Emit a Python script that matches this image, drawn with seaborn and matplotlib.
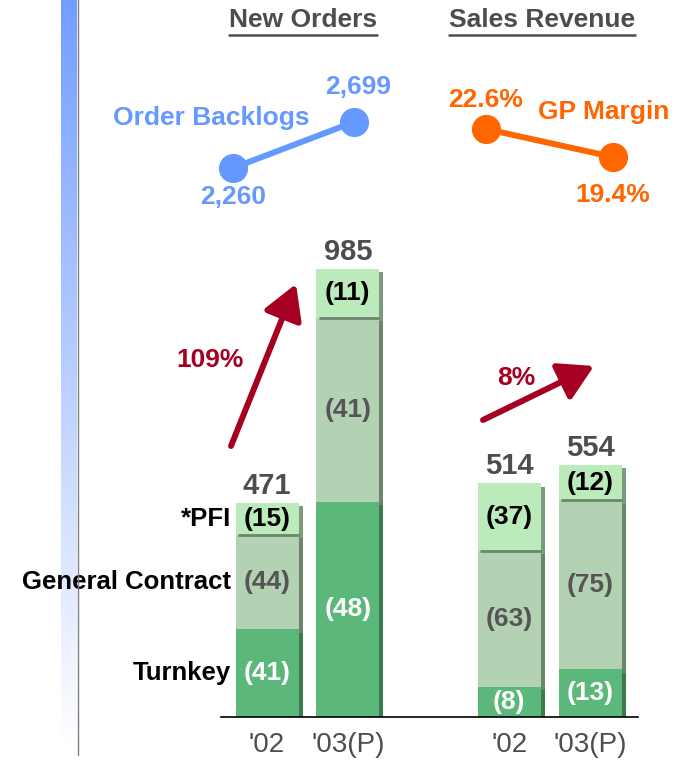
import numpy as np
import pandas as pd
import matplotlib
matplotlib.use("Agg")
import matplotlib.pyplot as plt
import matplotlib.patheffects as pe
from matplotlib.lines import Line2D
import seaborn as sns

# ---- data (100M won) ----
slots = ["NO'02", "NO'03", "SR'02", "SR'03"]
order = ["NO'02", "NO'03", "gap", "SR'02", "SR'03"]
tick_labels = ["'02", "'03(P)", "", "'02", "'03(P)"]
turnkey = [193, 473, 67, 105]
general = [207, 404, 298, 371]
pfi = [71, 108, 149, 78]
turnkey_pct = [41, 48, 8, 13]
general_pct = [44, 41, 63, 75]
pfi_pct = [15, 11, 37, 12]
row_names = ["Turnkey", "General Contract", "*PFI"]

backlog = [2260, 2699]
gp_margin = [22.6, 19.4]
growth = ["109%", "8%"]

W, H = 676, 761
BLUE = "#6699ff"
ORANGE = "#ff6600"
RED = "#a50021"
GREY = "#4d4d4d"
C_TK, C_GC, C_PFI = "#5cb87a", "#b3d1b3", "#bbeabb"

sns.set_style("white")
plt.rcParams["font.family"] = ["Liberation Sans", "DejaVu Sans"]


def box(x0, y0, x1, y1):
    # pixel box (top-left origin) -> figure fraction rect
    return [x0 / W, 1 - y1 / H, (x1 - x0) / W, (y1 - y0) / H]


df = pd.DataFrame({"slot": slots, "turnkey": turnkey, "general": general, "pfi": pfi})
df["lower"] = df.turnkey + df.general
df["total"] = df.lower + df.pfi

fig = plt.figure(figsize=(W / 100, H / 100), dpi=100)

# left gradient strip
ax_g = fig.add_axes(box(61, 0, 77, 745))
grad = np.linspace(0, 1, 256)[:, None]
top = np.array([0.45, 0.62, 1.0])
cols = top[None, None, :] * (1 - grad[:, :, None]) + np.ones(3)[None, None, :] * grad[:, :, None]
ax_g.imshow(cols, aspect="auto")
ax_g.axis("off")
fig.add_artist(Line2D([77.5 / W] * 2, [1, 1 - 755 / H], color="#7f7f7f", lw=1))

# stacked bars
ax = fig.add_axes(box(221, 200, 638, 717))
ax.patch.set_alpha(0)
layers = [("total", C_PFI, "#7d9a80"), ("lower", C_GC, "#6b866b"), ("turnkey", C_TK, "#3d7a50")]
for col, c, sh in layers:
    n = len(ax.patches)
    sns.barplot(data=df, x="slot", y=col, order=order, color=c, saturation=1,
                width=0.78, errorbar=None, linewidth=0, ax=ax)
    for p in ax.patches[n:]:
        p.set_linewidth(0)
        p.set_path_effects([pe.SimplePatchShadow(offset=(3, -2.5), shadow_rgbFace=sh, alpha=1),
                            pe.Normal()])

w = 0.78
xpos = np.array([order.index(s) for s in slots])
ax.hlines(df.lower, xpos - w / 2 + 0.03, xpos + w / 2, color="#6b866b", lw=2)

ax.set_xlim(-0.57, 4.594)
ax.set_ylim(0, 517 / 0.455)
ax.set_xticks(range(len(order)))
ax.set_xticklabels(tick_labels, fontsize=20, color=GREY)
ax.tick_params(axis="x", length=0, pad=11)
ax.set_yticks([])
ax.set_xlabel("")
ax.set_ylabel("")
for s in ["left", "top", "right"]:
    ax.spines[s].set_visible(False)
ax.spines["bottom"].set_color("black")
ax.spines["bottom"].set_linewidth(1.2)

for i, r in df.iterrows():
    x = xpos[i]
    ax.text(x, r.turnkey / 2, f"({turnkey_pct[i]})", color="white", fontsize=19,
            fontweight="bold", ha="center", va="center")
    ax.text(x, r.turnkey + r.general / 2, f"({general_pct[i]})", color="#555555",
            fontsize=19, fontweight="bold", ha="center", va="center")
    ax.text(x, r.lower + r.pfi / 2, f"({pfi_pct[i]})", color="black", fontsize=19,
            fontweight="bold", ha="center", va="center")
    ax.annotate(f"{r.total}", (x, r.total), xytext=(0, 2), textcoords="offset points",
                ha="center", va="bottom", color=GREY, fontsize=21, fontweight="bold")

r0 = df.iloc[0]
mids = [r0.turnkey / 2, r0.turnkey + r0.general / 2, r0.lower + r0.pfi / 2]
for name, y in zip(row_names, mids):
    ax.annotate(name, (xpos[0] - w / 2, y), xytext=(-3, 0), textcoords="offset points",
                ha="right", va="center", fontsize=18.5, fontweight="bold", color="black",
                annotation_clip=False)

# growth arrows
arrows = [((231, 446), (296, 284), (210, 360)), ((483, 420), (594, 366), (516, 378))]
for (t, h, lab), g in zip(arrows, growth):
    ax.annotate("", xy=(h[0], H - h[1]), xytext=(t[0], H - t[1]),
                xycoords="figure pixels", textcoords="figure pixels", annotation_clip=False,
                arrowprops=dict(arrowstyle="-|>,head_length=0.95,head_width=0.55",
                                mutation_scale=22, lw=4.3, color=RED, shrinkA=0, shrinkB=0))
    fig.text(lab[0] / W, 1 - lab[1] / H, g, color=RED, fontsize=19, fontweight="bold",
             ha="center", va="center")

# order backlog line
ax_b = fig.add_axes(box(233, 122, 354, 168))
sns.lineplot(x=[0, 1], y=backlog, color=BLUE, lw=4.3, marker="o", markersize=21,
             markeredgewidth=0, ax=ax_b)
ax_b.set_xlim(0, 1)
ax_b.set_ylim(backlog[0], backlog[1])
ax_b.axis("off")
for ln in ax_b.lines:
    ln.set_clip_on(False)
ax_b.annotate(f"{backlog[0]:,}", (0, backlog[0]), xytext=(0, -21), textcoords="offset points",
              ha="center", va="center", color=BLUE, fontsize=19, fontweight="bold",
              annotation_clip=False)
ax_b.annotate(f"{backlog[1]:,}", (1, backlog[1]), xytext=(3, 25), textcoords="offset points",
              ha="center", va="center", color=BLUE, fontsize=19, fontweight="bold",
              annotation_clip=False)
fig.text(211 / W, 1 - 118 / H, "Order Backlogs", color=BLUE, fontsize=19,
         fontweight="bold", ha="center", va="center")

# GP margin line
ax_m = fig.add_axes(box(486, 129, 613, 157))
sns.lineplot(x=[0, 1], y=gp_margin, color=ORANGE, lw=4.3, marker="o", markersize=21,
             markeredgewidth=0, ax=ax_m)
ax_m.set_xlim(0, 1)
ax_m.set_ylim(gp_margin[1], gp_margin[0])
ax_m.axis("off")
for ln in ax_m.lines:
    ln.set_clip_on(False)
ax_m.annotate(f"{gp_margin[0]}%", (0, gp_margin[0]), xytext=(0, 21), textcoords="offset points",
              ha="center", va="center", color=ORANGE, fontsize=19, fontweight="bold",
              annotation_clip=False)
ax_m.annotate(f"{gp_margin[1]}%", (1, gp_margin[1]), xytext=(0, -27), textcoords="offset points",
              ha="center", va="center", color=ORANGE, fontsize=19, fontweight="bold",
              annotation_clip=False)
fig.text(604 / W, 1 - 112 / H, "GP Margin", color=ORANGE, fontsize=19,
         fontweight="bold", ha="center", va="center")

# underlined headers
heads = []
for txt, cx in [("New Orders", 303), ("Sales Revenue", 542)]:
    heads.append(fig.text(cx / W, 1 - 20 / H, txt, color=GREY, fontsize=19,
                          fontweight="bold", ha="center", va="center"))
fig.canvas.draw()
for t in heads:
    bb = t.get_window_extent()
    fig.add_artist(Line2D([bb.x0 / W, bb.x1 / W], [1 - 35 / H] * 2, color=GREY, lw=1.8))

fig.savefig("out.png", dpi=100)
